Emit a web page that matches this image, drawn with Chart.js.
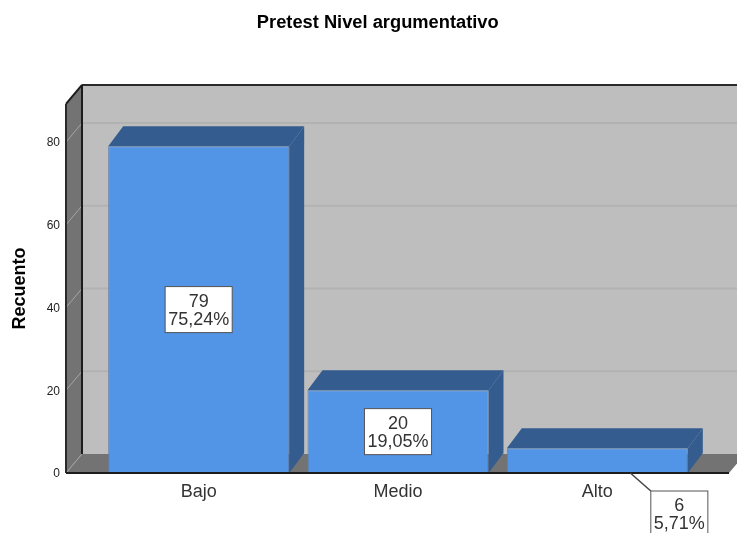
<!DOCTYPE html>
<html>
<head>
<meta charset="utf-8">
<script src="https://cdn.jsdelivr.net/npm/chart.js@4"></script>
<style>
  html, body { margin: 0; background: #fff; overflow: hidden; }
</style>
</head>
<body>
<canvas id="barChart" width="737" height="533"></canvas>
<script>
var categories = ["Bajo", "Medio", "Alto"];
var counts = [79, 20, 6];
var percents = ["75,24%", "19,05%", "5,71%"];
var yTicks = [0, 20, 40, 60, 80];

var FONT = '"Liberation Sans", Arial, sans-serif';
var wallDx = 16, wallDy = -19;   // depth of the box
var barDx = 15, barDy = -20;     // depth of the bars

function poly(ctx, pts, fill) {
  ctx.beginPath();
  ctx.moveTo(pts[0][0], pts[0][1]);
  for (var i = 1; i < pts.length; i++) ctx.lineTo(pts[i][0], pts[i][1]);
  ctx.closePath();
  ctx.fillStyle = fill;
  ctx.fill();
}

function line(ctx, x1, y1, x2, y2, color, width) {
  ctx.beginPath();
  ctx.moveTo(x1, y1);
  ctx.lineTo(x2, y2);
  ctx.strokeStyle = color;
  ctx.lineWidth = width;
  ctx.stroke();
}

// fake 3d box and the top/side faces of the bars
var box3d = {
  id: "box3d",
  afterLayout: function(chart) {
    chart.titleBlock.left += 58.5; // title sits right of the page centre
  },
  beforeDatasetsDraw: function(chart) {
    var ctx = chart.ctx, y = chart.scales.y;
    var left = 66, right = 729, base = y.getPixelForValue(0), top = y.getPixelForValue(y.max);
    var backX = left + wallDx, backTop = top + wallDy, backBase = base + wallDy;

    ctx.save();
    poly(ctx, [[backX, backTop], [chart.width, backTop], [chart.width, backBase], [backX, backBase]], "#bebebe");
    poly(ctx, [[left, top], [backX, backTop], [backX, backBase], [left, base]], "#737373");
    poly(ctx, [[left, base], [backX, backBase], [right + wallDx, backBase], [right, base]], "#737373");

    yTicks.forEach(function(v) {
      if (v === 0) return;
      var py = y.getPixelForValue(v);
      line(ctx, backX, py + wallDy, chart.width, py + wallDy, "#b2b2b2", 2);
      line(ctx, left, py, backX, py + wallDy, "#a5a5a5", 1);
    });
    line(ctx, left, base, backX, backBase, "#a5a5a5", 1);

    line(ctx, backX, backTop, chart.width, backTop, "#2a2a2a", 2);
    line(ctx, backX, backTop, backX, backBase, "#1c1c1c", 2);
    line(ctx, left, top, backX, backTop, "#1c1c1c", 2);
    line(ctx, left, top, left, base, "#2a2a2a", 2);

    chart.getDatasetMeta(0).data.forEach(function(bar) {
      var l = bar.x - bar.width / 2, r = bar.x + bar.width / 2;
      poly(ctx, [[l, bar.y], [l + barDx, bar.y + barDy], [r + barDx, bar.y + barDy], [r, bar.y]], "#345c8f");
      poly(ctx, [[r, bar.y], [r + barDx, bar.y + barDy], [r + barDx, bar.base + barDy], [r, bar.base]], "#345c8f");
    });
    ctx.restore();
  },
  afterDatasetsDraw: function(chart) {
    var ctx = chart.ctx, y = chart.scales.y;
    var base = y.getPixelForValue(0);
    ctx.save();
    line(ctx, 66, base, 729, base, "#1c1c1c", 2);

    // count + percent boxes; the small bar gets its label pushed outside
    ctx.font = "18px " + FONT;
    ctx.textAlign = "center";
    ctx.textBaseline = "middle";
    chart.getDatasetMeta(0).data.forEach(function(bar, i) {
      var w = ctx.measureText(percents[i]).width + 6, h = 46;
      var cx = bar.x, cy = (bar.y + bar.base) / 2;
      if (counts[i] < 10) {
        cx = bar.x + 82;
        cy = bar.base + 18 + h / 2;
        line(ctx, bar.x + 33, bar.base, cx - w / 2, bar.base + 18, "#444", 1.5);
      }
      ctx.fillStyle = "#fff";
      ctx.fillRect(cx - w / 2, cy - h / 2, w, h);
      ctx.strokeStyle = "#555";
      ctx.lineWidth = 1;
      ctx.strokeRect(cx - w / 2, cy - h / 2, w, h);
      ctx.fillStyle = "#333";
      ctx.fillText(String(counts[i]), cx, cy - 8);
      ctx.fillText(percents[i], cx, cy + 10);
    });
    ctx.restore();
  }
};

var ctx = document.getElementById("barChart").getContext("2d");
var myBarChart = new Chart(ctx, {
  type: "bar",
  data: {
    labels: categories,
    datasets: [{
      data: counts,
      backgroundColor: "#5294e6",
      borderColor: "#5a82b4",
      borderWidth: 1,
      barPercentage: 0.908,
      categoryPercentage: 1
    }]
  },
  options: {
    responsive: false,
    animation: false,
    layout: { padding: { left: 0, right: 40, top: 0, bottom: 0 } },
    plugins: {
      legend: { display: false },
      tooltip: { enabled: false },
      title: {
        display: true,
        text: "Pretest Nivel argumentativo",
        color: "#000",
        font: { family: FONT, size: 18.3, weight: "bold" },
        padding: { top: 12, bottom: 70 }
      }
    },
    scales: {
      x: {
        grid: { display: false },
        border: { display: false },
        ticks: { color: "#333", padding: 0, font: { family: FONT, size: 18 } },
        afterFit: function(scale) { scale.height = 60; }
      },
      y: {
        min: 0,
        max: 89.2,
        grid: { display: false },
        border: { display: false },
        afterBuildTicks: function(scale) {
          scale.ticks = yTicks.map(function(v) { return { value: v }; });
        },
        ticks: { color: "#222", padding: 31, labelOffset: 1, font: { family: FONT, size: 12 } },
        title: {
          display: true,
          text: "Recuento",
          color: "#000",
          font: { family: FONT, size: 18, weight: "bold" },
          padding: { top: 9, bottom: 0 }
        },
        afterFit: function(scale) { scale.width = 99; }
      }
    }
  },
  plugins: [box3d]
});
</script>
</body>
</html>
